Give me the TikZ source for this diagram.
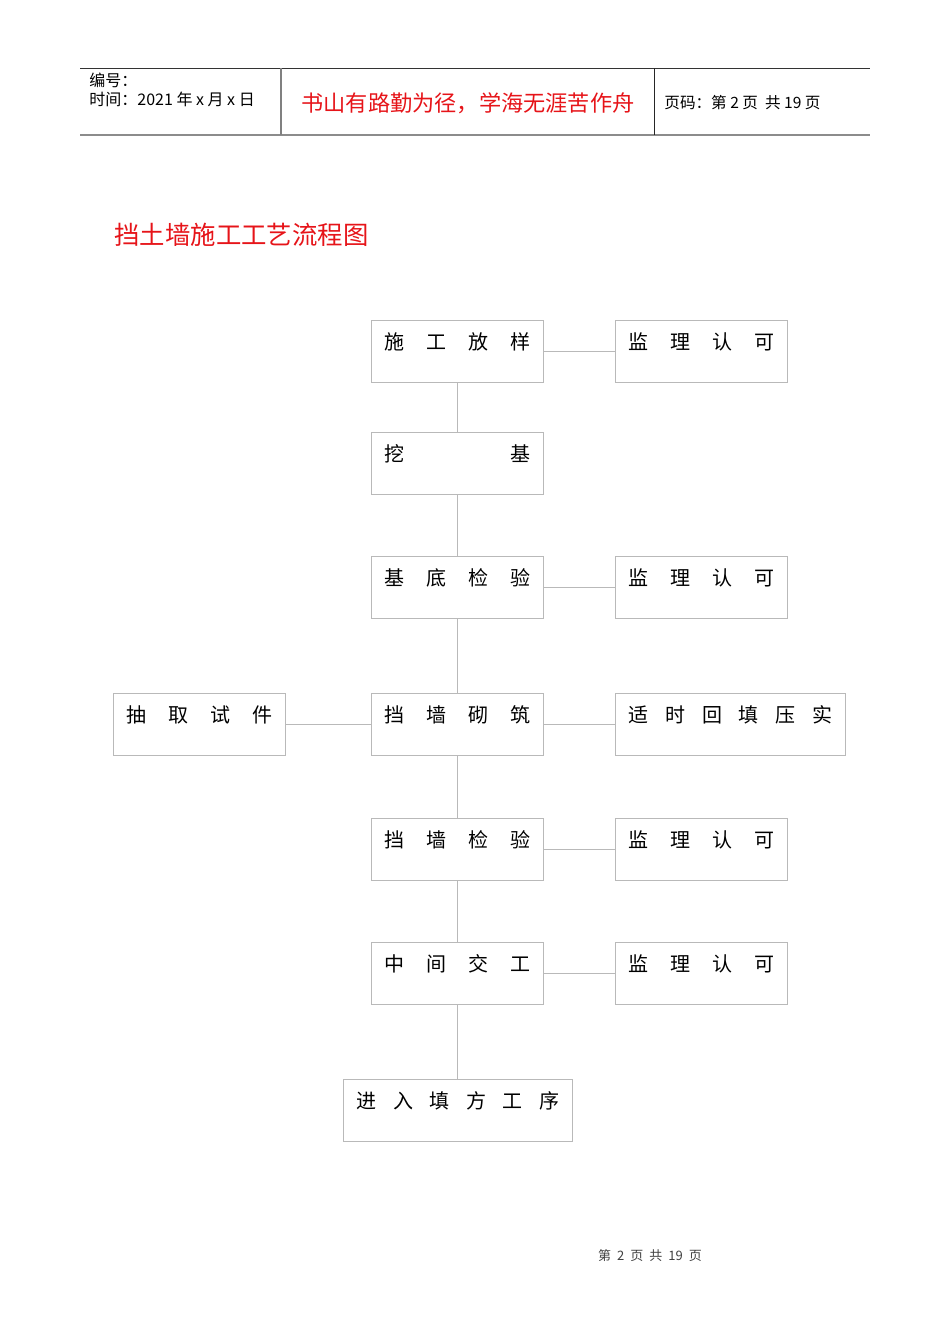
\documentclass[tikz,border=0pt]{standalone}
\usepackage{fontspec}
\setmainfont{Noto Sans CJK SC}
\usetikzlibrary{shapes, positioning}

\definecolor{titlered}{RGB}{230,20,25}
\definecolor{boxgrey}{RGB}{185,185,185}

\newcommand{\spreadtext}[1]{\hbox to \hsize{#1}}

\tikzset{
  flowbox/.style={rectangle, draw=boxgrey, line width=0.5pt, anchor=north west,
    inner xsep=6.5pt, inner ysep=0pt, text width=#1,
    text height=14.3pt, text depth=16.7pt, font=\fontsize{10}{10}\selectfont},
  flowbox/.default=73pt,
  link/.style={draw=boxgrey, line width=0.5pt},
  headtext/.style={anchor=west, inner sep=0pt, font=\fontsize{8}{8}\selectfont},
}

\begin{document}
\begin{tikzpicture}[x=0.5pt, y=-0.5pt]
        \useasboundingbox (0,0) rectangle (950,1344);

        % header
        \draw[black!80, line width=0.5pt] (80,68) -- (870,68);
        \draw[black!45, line width=1pt] (80,135) -- (870,135);
        \draw[black!50, line width=0.7pt] (281,68) -- (281,135);
        \draw[black!85, line width=0.5pt] (654,68) -- (654,135);
        \node[headtext] (bianhao) at (89,80) {编号：};
        \node[headtext] (shijian) at (89,99) {时间：2021 年 x 月 x 日};
        \node[inner sep=0pt, text=titlered, font=\fontsize{11.1}{11.1}\selectfont] (motto) at (468,103) {书山有路勤为径，学海无涯苦作舟};
        \node[headtext, font=\fontsize{7.8}{7.8}\selectfont] (yema) at (664,103) {页码：第 2 页\ \ 共 19 页};

        \node[anchor=west, inner sep=0pt, text=titlered, font=\fontsize{12.7}{12.7}\selectfont] (title) at (114,235) {挡土墙施工工艺流程图};

        % main column
        \node[flowbox] (fangyang) at (371,320) {\spreadtext{施\hfill 工\hfill 放\hfill 样}};
        \node[flowbox] (waji) at (371,432) {\spreadtext{挖\hfill 基}};
        \node[flowbox] (jiandi) at (371,556) {\spreadtext{基\hfill 底\hfill 检\hfill 验}};
        \node[flowbox] (qizhu) at (371,693) {\spreadtext{挡\hfill 墙\hfill 砌\hfill 筑}};
        \node[flowbox] (jianyan) at (371,818) {\spreadtext{挡\hfill 墙\hfill 检\hfill 验}};
        \node[flowbox] (jiaogong) at (371,942) {\spreadtext{中\hfill 间\hfill 交\hfill 工}};
        \node[flowbox=101.5pt] (tianfang) at (343,1079) {\spreadtext{进\hfill 入\hfill 填\hfill 方\hfill 工\hfill 序}};

        % side boxes
        \node[flowbox] (renke1) at (615,320) {\spreadtext{监\hfill 理\hfill 认\hfill 可}};
        \node[flowbox] (renke2) at (615,556) {\spreadtext{监\hfill 理\hfill 认\hfill 可}};
        \node[flowbox=102pt] (huitian) at (615,693) {\spreadtext{适\hfill 时\hfill 回\hfill 填\hfill 压\hfill 实}};
        \node[flowbox] (renke3) at (615,818) {\spreadtext{监\hfill 理\hfill 认\hfill 可}};
        \node[flowbox] (renke4) at (615,942) {\spreadtext{监\hfill 理\hfill 认\hfill 可}};
        \node[flowbox] (shijian2) at (113,693) {\spreadtext{抽\hfill 取\hfill 试\hfill 件}};

        \draw[link] (fangyang.south) -- (waji.north);
        \draw[link] (waji.south) -- (jiandi.north);
        \draw[link] (jiandi.south) -- (qizhu.north);
        \draw[link] (qizhu.south) -- (jianyan.north);
        \draw[link] (jianyan.south) -- (jiaogong.north);
        \draw[link] (jiaogong.south) -- (jiaogong.south |- tianfang.north);

        \draw[link] (fangyang.east) -- (renke1.west);
        \draw[link] (jiandi.east) -- (renke2.west);
        \draw[link] (qizhu.east) -- (huitian.west);
        \draw[link] (shijian2.east) -- (qizhu.west);
        \draw[link] (jianyan.east) -- (renke3.west);
        \draw[link] (jiaogong.east) -- (renke4.west);

        \node[inner sep=0pt, text=black!75, font=\fontsize{6.5}{6.5}\selectfont] (footer) at (650,1256) {第\hspace{3pt}2\hspace{3pt}页\hspace{3pt}共\hspace{3pt}19\hspace{3pt}页};
    \end{tikzpicture}
\end{document}
